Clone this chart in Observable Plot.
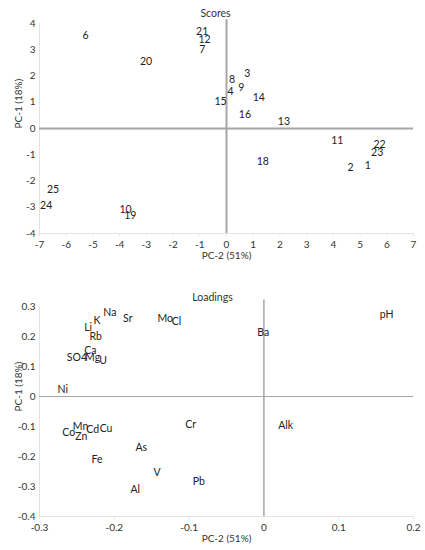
<!DOCTYPE html>
<html>
<head>
<meta charset="utf-8">
<script src="https://cdn.jsdelivr.net/npm/d3@7"></script>
<script src="https://cdn.jsdelivr.net/npm/@observablehq/plot@0.6"></script>
<style>
  body { margin: 0; background: #fff; }
  #chart svg { display: block; }
</style>
</head>
<body>
<div id="chart"></div>
<script>
// Scores (sample numbers, PC-2 on x, PC-1 on y)
const scoreLabels = ["6","21","12","7","20","3","8","9","4","14","15","16","13","11","22","23","18","2","1","25","24","10","19"];
const scorePC2 = [-5.28,-0.91,-0.82,-0.91,-3.01,0.78,0.21,0.55,0.15,1.21,-0.22,0.69,2.15,4.15,5.73,5.64,1.36,4.64,5.29,-6.49,-6.75,-3.78,-3.60];
const scorePC1 = [3.54,3.70,3.38,3.02,2.54,2.10,1.88,1.54,1.40,1.17,1.04,0.53,0.26,-0.48,-0.61,-0.93,-1.27,-1.50,-1.40,-2.34,-2.92,-3.10,-3.33];

// Loadings (variables)
const loadingLabels = ["Na","K","Sr","Mo","Cl","Li","Rb","Ba","pH","Ca","SO4","Mg","U","Ni","Cr","Alk","Mn","Co","Cd","Cu","Zn","As","Fe","V","Pb","Al"];
const loadingPC2 = [-0.206,-0.223,-0.182,-0.132,-0.117,-0.235,-0.225,-0.001,0.164,-0.232,-0.250,-0.229,-0.215,-0.269,-0.098,0.029,-0.245,-0.261,-0.229,-0.211,-0.244,-0.164,-0.223,-0.143,-0.087,-0.172];
const loadingPC1 = [0.279,0.252,0.258,0.260,0.250,0.228,0.198,0.214,0.272,0.153,0.128,0.128,0.120,0.023,-0.093,-0.097,-0.099,-0.119,-0.111,-0.107,-0.133,-0.169,-0.209,-0.254,-0.285,-0.310];

const scoreXTicks = d3.range(-7, 8);
const scoreYTicks = d3.range(-4, 5);
const loadXTicks = [-0.3, -0.2, -0.1, 0, 0.1, 0.2];
const loadYTicks = [-0.4, -0.3, -0.2, -0.1, 0, 0.1, 0.2, 0.3];

const FONT = "Lato, 'Open Sans', sans-serif";
const axisColor = "#e3e3e3";
const zeroColor = "#a6a6a6";
const textColor = "#333";

const fmt1 = d => (Math.abs(d) < 1e-9 ? "0" : d.toFixed(1));

const scores = Plot.plot({
  width: 425,
  height: 265,
  marginLeft: 39,
  marginRight: 12,
  marginTop: 23,
  marginBottom: 32,
  style: { fontFamily: FONT, fontSize: "10px", color: textColor, background: "#fff" },
  x: { domain: [-7, 7] },
  y: { domain: [-4, 4] },
  marks: [
    Plot.ruleX([-7], { stroke: axisColor }),
    Plot.ruleY([-4], { stroke: axisColor }),
    Plot.ruleY([0], { stroke: zeroColor, strokeWidth: 2 }),
    Plot.ruleX([0], { y1: -4, y2: 4.14, stroke: zeroColor, strokeWidth: 2 }),
    Plot.axisX({ ticks: scoreXTicks, tickFormat: d => String(d), tickSize: 3, tickPadding: 4, stroke: axisColor, label: null, fill: textColor }),
    Plot.axisY({ ticks: scoreYTicks, tickFormat: d => String(d), tickSize: 0, tickPadding: 4, label: null, fill: textColor }),
    Plot.text(scoreLabels, { x: (d, i) => scorePC2[i], y: (d, i) => scorePC1[i], text: d => d, fontSize: 10.5, fill: "#222" }),
    Plot.text(["Scores"], { frameAnchor: "top", dy: -13.5, dx: -11, fontSize: 10.5, fill: textColor }),
    Plot.text(["PC-2 (51%)"], { frameAnchor: "bottom", dy: 25, fontSize: 10, fill: textColor }),
    Plot.text(["PC-1 (18%)"], { frameAnchor: "left", rotate: -90, dx: -21, fontSize: 10, fill: textColor })
  ]
});

const loadings = Plot.plot({
  width: 425,
  height: 285,
  marginLeft: 39,
  marginRight: 12,
  marginTop: 41,
  marginBottom: 34,
  style: { fontFamily: FONT, fontSize: "10px", color: textColor, background: "#fff" },
  x: { domain: [-0.3, 0.2] },
  y: { domain: [-0.4, 0.3] },
  marks: [
    Plot.ruleX([-0.3], { stroke: axisColor }),
    Plot.ruleY([-0.4], { stroke: axisColor }),
    Plot.ruleY([0], { stroke: zeroColor, strokeWidth: 1 }),
    Plot.ruleX([0], { y1: -0.4, y2: 0.322, stroke: zeroColor, strokeWidth: 1.5 }),
    Plot.axisX({ ticks: loadXTicks, tickFormat: fmt1, tickSize: 3, tickPadding: 4, stroke: axisColor, label: null, fill: textColor }),
    Plot.axisY({ ticks: loadYTicks, tickFormat: fmt1, tickSize: 0, tickPadding: 4, label: null, fill: textColor }),
    Plot.text(loadingLabels, { x: (d, i) => loadingPC2[i], y: (d, i) => loadingPC1[i], text: d => d, fontSize: 10.5, fill: "#222" }),
    Plot.text(["Loadings"], { frameAnchor: "top", dy: -13, dx: -14, fontSize: 10.5, fill: textColor }),
    Plot.text(["PC-2 (51%)"], { frameAnchor: "bottom", dy: 25, fontSize: 10, fill: textColor }),
    Plot.text(["PC-1 (18%)"], { frameAnchor: "left", rotate: -90, dx: -21, fontSize: 10, fill: textColor })
  ]
});

const root = document.getElementById("chart");
root.append(scores, loadings);
</script>
</body>
</html>
